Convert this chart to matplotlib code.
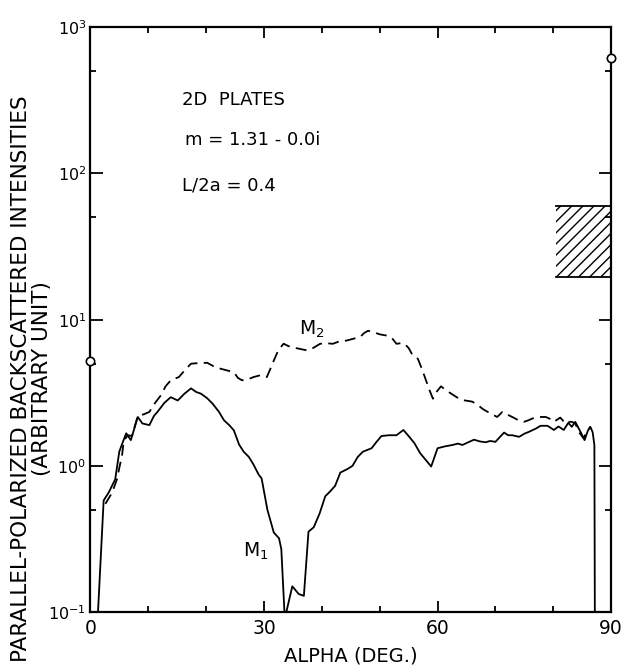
import numpy as np
import matplotlib
matplotlib.use("Agg")
import matplotlib.pyplot as plt
from matplotlib.patches import Rectangle
from matplotlib.ticker import FixedLocator, LogFormatterSciNotation, NullFormatter

# ===============================
# DATA
# ===============================
m1_alpha = [1.2, 2.3, 3.2, 4.3, 5.0, 5.6, 6.2, 7.0, 8.2, 9.0, 10.2, 11.0, 11.6,
            12.8, 13.9, 15.1, 16.2, 17.4, 18.3, 19.1, 20.2, 21.1, 22.2, 23.1,
            24.0, 24.8, 25.7, 26.5, 27.4, 28.2, 29.1, 29.6, 30.6, 31.7, 32.6,
            33.0, 33.6, 34.9, 36.0, 36.9, 37.7, 38.6, 39.6, 40.6, 41.3, 42.3,
            43.2, 44.4, 45.3, 46.2, 47.1, 48.6, 49.4, 50.3, 51.6, 52.9, 54.1,
            55.0, 56.0, 57.0, 57.7, 58.9, 60.0, 61.3, 62.6, 63.5, 64.3, 65.3,
            66.3, 67.3, 68.3, 69.1, 70.0, 71.5, 72.2, 72.9, 74.1, 75.0, 75.8,
            77.0, 77.8, 79.0, 80.1, 80.9, 81.8, 82.6, 83.2, 83.8, 84.7, 85.4,
            86.0, 86.4, 86.8, 87.1, 87.2]
m1_value = [0.08, 0.58, 0.66, 0.81, 1.25, 1.45, 1.67, 1.5, 2.16, 1.95, 1.9, 2.2, 2.34,
            2.7, 2.95, 2.8, 3.1, 3.39, 3.2, 3.12, 2.9, 2.67, 2.35, 2.05,
            1.9, 1.75, 1.4, 1.25, 1.15, 1.02, 0.87, 0.82, 0.5, 0.35, 0.32,
            0.27, 0.09, 0.15, 0.133, 0.129, 0.355, 0.38, 0.47, 0.62, 0.66, 0.73,
            0.9, 0.95, 1.0, 1.15, 1.25, 1.32, 1.45, 1.6, 1.62, 1.62, 1.76,
            1.6, 1.43, 1.22, 1.13, 0.99, 1.32, 1.36, 1.39, 1.42, 1.39, 1.45,
            1.51, 1.47, 1.45, 1.48, 1.46, 1.69, 1.62, 1.62, 1.58, 1.66, 1.71,
            1.8, 1.88, 1.88, 1.76, 1.86, 1.76, 1.97, 1.85, 2.0, 1.71, 1.5,
            1.75, 1.85, 1.7, 1.39, 0.05]

m2_alpha = [2.6, 3.8, 4.6, 5.5, 5.8, 6.5, 7.2, 8.2, 9.2, 10.2, 11.2, 12.2, 13.0,
            13.9, 15.3, 16.3, 17.4, 18.8, 20.2, 21.3, 22.5, 23.6, 24.8, 25.5,
            26.2, 27.2, 28.2, 29.4, 30.5, 31.1, 31.7, 32.5, 33.4, 34.2, 35.1,
            36.3, 37.4, 38.5, 39.7, 40.8, 41.9, 43.0, 44.3, 45.4, 46.6, 47.3,
            48.0, 49.0, 50.0, 51.4, 52.1, 52.9, 53.6, 54.3, 55.0, 55.7, 56.6,
            57.3, 58.0, 58.6, 59.2, 59.8, 60.6, 61.4, 62.3, 63.3, 64.3, 66.0,
            67.0, 67.8, 69.0, 70.3, 71.2, 72.0, 72.9, 74.0, 74.9, 75.7, 76.4,
            77.6, 78.7, 79.4, 80.1, 81.2, 82.1, 82.6, 83.2, 83.8, 84.4, 85.2,
            85.8, 86.4]
m2_value = [0.55, 0.66, 0.81, 1.2, 1.5, 1.62, 1.6, 2.2, 2.25, 2.34, 2.7, 3.04, 3.5,
            3.85, 4.05, 4.5, 5.0, 5.05, 5.07, 4.8, 4.62, 4.5, 4.37, 4.0,
            3.85, 3.9, 4.05, 4.17, 4.05, 4.6, 5.25, 6.2, 6.85, 6.6, 6.45,
            6.3, 6.17, 6.4, 6.84, 6.9, 6.84, 7.1, 7.2, 7.4, 7.6, 8.1,
            8.4, 8.2, 7.94, 7.76, 7.5, 6.84, 6.9, 6.84, 6.4, 5.7, 5.4,
            4.6, 3.85, 3.3, 2.88, 3.2, 3.5, 3.3, 3.13, 2.95, 2.82, 2.75,
            2.6, 2.45, 2.3, 2.16, 2.34, 2.25, 2.16, 2.05, 2.0, 2.05, 2.11,
            2.16, 2.16, 2.1, 2.0, 2.14, 1.95, 2.0, 2.0, 1.95, 1.71, 1.55,
            1.7, 1.85]

# open circles sitting on the axes (alpha = 0 and alpha = 90)
circle_alpha = [0.0, 90.0]
circle_value = [5.25, 617.0]

# hatched range near alpha = 90
hatch_alpha = [80.5, 90.0]
hatch_value = [19.5, 59.5]

x_major = [0, 30, 60, 90]
x_minor = [10, 20, 40, 50, 70, 80]
y_major = [0.1, 1, 10, 100, 1000]
y_minor = [0.5, 5, 50, 500]

# ===============================
# FIGURE
# ===============================
plt.rcParams['font.family'] = ['DejaVu Sans']
plt.rcParams['mathtext.default'] = 'regular'

fig = plt.figure(figsize=(6.23, 6.66), dpi=100)
ax = fig.add_axes([0.145, 0.081, 0.836, 0.878])

ax.plot(m1_alpha, m1_value, color='black', linewidth=1.3)
ax.plot(m2_alpha, m2_value, color='black', linewidth=1.3, dashes=(6, 3.5))

ax.plot(circle_alpha, circle_value, 'o', ms=6, mfc='white', mec='black',
        mew=1.2, clip_on=False, zorder=5)

# hatched box: hatch + top and bottom edges only
ax.add_patch(Rectangle((hatch_alpha[0], hatch_value[0]),
                       hatch_alpha[1] - hatch_alpha[0],
                       hatch_value[1] - hatch_value[0],
                       fill=False, hatch='///', edgecolor='black', linewidth=0))
ax.plot(hatch_alpha, [hatch_value[0]] * 2, color='black', linewidth=1.3)
ax.plot(hatch_alpha, [hatch_value[1]] * 2, color='black', linewidth=1.3)

ax.set_yscale('log')
ax.set_xlim(0, 90)
ax.set_ylim(0.1, 1000)

ax.xaxis.set_major_locator(FixedLocator(x_major))
ax.xaxis.set_minor_locator(FixedLocator(x_minor))
ax.yaxis.set_major_locator(FixedLocator(y_major))
ax.yaxis.set_minor_locator(FixedLocator(y_minor))
ax.yaxis.set_major_formatter(LogFormatterSciNotation())
ax.yaxis.set_minor_formatter(NullFormatter())

ax.tick_params(which='both', direction='in', top=True, right=True, width=1.3)
ax.tick_params(axis='x', which='major', length=8, labelsize=13.5, pad=5)
ax.tick_params(axis='x', which='minor', length=4)
ax.tick_params(axis='y', which='major', length=9, labelsize=11.5, pad=3)
ax.tick_params(axis='y', which='minor', length=4)

for s in ax.spines.values():
    s.set_linewidth(1.6)

ax.set_xlabel('ALPHA (DEG.)', fontsize=14, labelpad=6)
fig.text(0.05, 0.432,
         'PARALLEL-POLARIZED BACKSCATTERED INTENSITIES\n(ARBITRARY UNIT)',
         rotation=90, ha='center', va='center', multialignment='center',
         fontsize=15.5, linespacing=1.05)

ax.text(15.8, 316, '2D  PLATES', fontsize=13, va='center')
ax.text(16.3, 169, 'm = 1.31 - 0.0i', fontsize=13, va='center')
ax.text(15.8, 83, 'L/2a = 0.4', fontsize=13, va='center')

ax.text(38.2, 8.6, 'M$_2$', fontsize=13.5, ha='center', va='center')
ax.text(28.6, 0.26, 'M$_1$', fontsize=13.5, ha='center', va='center')

fig.savefig('out.png', dpi=100)
